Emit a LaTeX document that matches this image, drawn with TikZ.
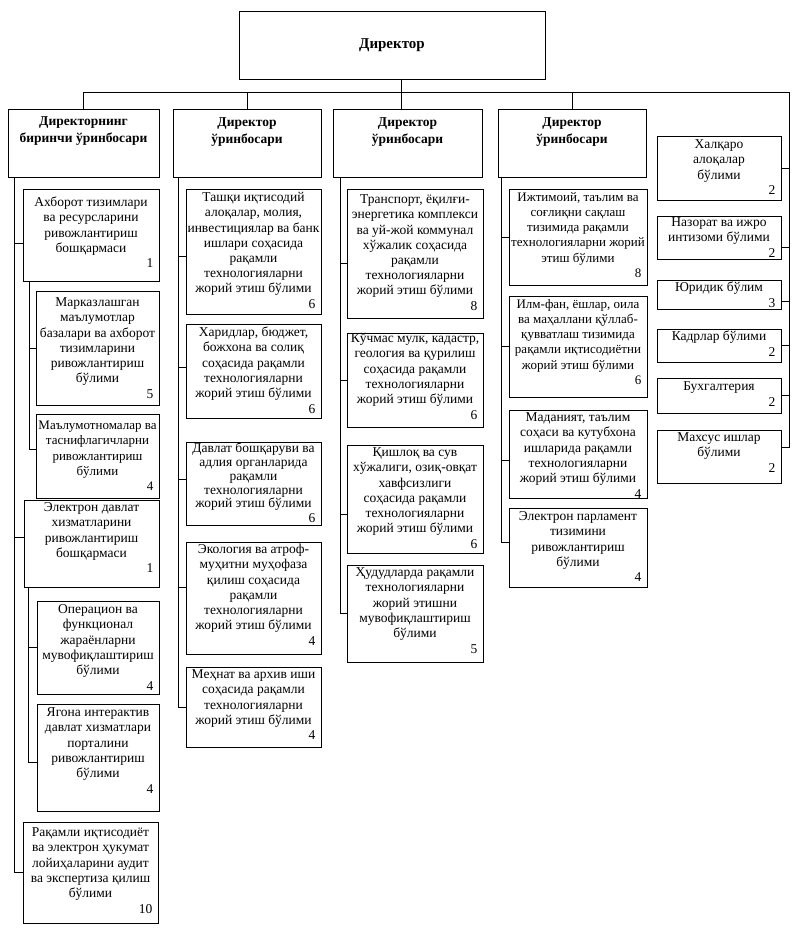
\documentclass[tikz,border=0pt]{standalone}
\usepackage{fontspec}
\setmainfont{Liberation Serif}
\usetikzlibrary{fit}
\tikzset{
  boxs/.style={draw, line width=1pt, inner sep=0pt},
  txt/.style={inner sep=0pt, align=center, font=\fontsize{13.5}{15.2}\selectfont},
  small/.style={font=\fontsize{13}{15.2}\selectfont},
  tight/.style={font=\fontsize{13.5}{13.8}\selectfont},
  head/.style={font=\fontsize{13.5}{16.5}\selectfont\bfseries},
  numtxt/.style={inner sep=0pt, anchor=north east, font=\fontsize{13.5}{15.2}\selectfont},
  conn/.style={line width=1pt},
}
% name, x1, y1, x2, y2, first-baseline offset, text style, text, number
\newcommand\ubox[9]{%
  \node[boxs, fit={(#2,#3)(#4,#5)}] (#1) {};
  \node[txt, #7, anchor=north] (#1t) at ([yshift={(10.64-#6)*1pt}]#1.north) {\strut #8\strut};
  \node[numtxt, #7] (#1n) at ([xshift=-6pt]#1t.south -| #1.east) {\strut #9};
}
\begin{document}
\begin{tikzpicture}[x=1pt, y=-1pt]
\useasboundingbox (0,0) rectangle (799,934);
\fill[white] (0,0) rectangle (799,934);
% director
\node[boxs, fit={(239,12)(545,79)}] (dir) {};
\node[font=\fontsize{15}{17}\selectfont\bfseries, inner sep=0pt] (dirt) at (dir.center) {Директор};
% deputies
\ubox{d1}{8}{109}{159}{177}{16}{head}{Директорнинг\\биринчи ўринбосари}{}
\ubox{d2}{173}{109}{321}{177}{17}{head}{Директор\\ўринбосари}{}
\ubox{d3}{333}{109}{482}{177}{17}{head}{Директор\\ўринбосари}{}
\ubox{d4}{498}{109}{646}{177}{17}{head}{Директор\\ўринбосари}{}
% column 1
\ubox{ax}{23}{189}{159}{281}{18}{}{Ахборот тизимлари\\ва ресурсларини\\ривожлантириш\\бошқармаси}{1}
\ubox{mk}{36}{291}{159}{405}{16}{}{Марказлашган\\маълумотлар\\базалари ва ахборот\\тизимларини\\ривожлантириш\\бўлими}{5}
\ubox{mq}{36}{414}{159}{498}{16}{small}{Маълумотномалар ва\\таснифлагичларни\\ривожлантириш\\бўлими}{4}
\ubox{ed}{24}{500}{159}{587}{12}{}{Электрон давлат\\хизматларини\\ривожлантириш\\бошқармаси}{1}
\ubox{op}{37}{601}{159}{694}{13}{}{Операцион ва\\функционал\\жараёнларни\\мувофиқлаштириш\\бўлими}{4}
\ubox{yg}{37}{704}{159}{811}{13}{}{Ягона интерактив\\давлат хизматлари\\порталини\\ривожлантириш\\бўлими}{4}
\ubox{rq}{23}{822}{158}{923}{15}{}{Рақамли иқтисодиёт\\ва электрон ҳукумат\\лойиҳаларини аудит\\ва экспертиза қилиш\\бўлими}{10}
% column 2
\ubox{tq}{186}{189}{321}{314}{13}{}{Ташқи иқтисодий\\алоқалар, молия,\\инвестициялар ва банк\\ишлари соҳасида\\рақамли\\технологияларни\\жорий этиш бўлими}{6}
\ubox{hr}{186}{324}{321}{418}{13}{}{Харидлар, бюджет,\\божхона ва солиқ\\соҳасида рақамли\\технологияларни\\жорий этиш бўлими}{6}
\ubox{db}{186}{442}{321}{525}{12}{tight}{Давлат бошқаруви ва\\адлия органларида\\рақамли\\технологияларни\\жорий этиш бўлими}{6}
\ubox{ek}{186}{542}{321}{654}{12}{}{Экология ва атроф-\\муҳитни муҳофаза\\қилиш соҳасида\\рақамли\\технологияларни\\жорий этиш бўлими}{4}
\ubox{mh}{186}{667}{321}{747}{12}{}{Меҳнат ва архив иши\\соҳасида рақамли\\технологияларни\\жорий этиш бўлими}{4}
% column 3
\ubox{tr}{347}{189}{483}{318}{15}{}{Транспорт, ёқилғи-\\энергетика комплекси\\ва уй-жой коммунал\\хўжалик соҳасида\\рақамли\\технологияларни\\жорий этиш бўлими}{8}
\ubox{kc}{347}{333}{483}{427}{10}{}{Кўчмас мулк, кадастр,\\геология ва қурилиш\\соҳасида рақамли\\технологияларни\\жорий этиш бўлими}{6}
\ubox{qs}{347}{445}{483}{553}{12}{}{Қишлоқ ва сув\\хўжалиги, озиқ-овқат\\хавфсизлиги\\соҳасида рақамли\\технологияларни\\жорий этиш бўлими}{6}
\ubox{hd}{347}{565}{483}{662}{12}{}{Ҳудудларда рақамли\\технологияларни\\жорий этишни\\мувофиқлаштириш\\бўлими}{5}
% column 4
\ubox{ij}{509}{189}{647}{285}{12.5}{small}{Ижтимоий, таълим ва\\соғлиқни сақлаш\\тизимида рақамли\\технологияларни жорий\\этиш бўлими}{8}
\ubox{il}{509}{296}{647}{397}{12.5}{small}{Илм-фан, ёшлар, оила\\ва маҳаллани қўллаб-\\қувватлаш тизимида\\рақамли иқтисодиётни\\жорий этиш бўлими}{6}
\ubox{md}{509}{410}{647}{498}{12}{}{Маданият, таълим\\соҳаси ва кутубхона\\ишларида рақамли\\технологияларни\\жорий этиш бўлими}{4}
\ubox{ep}{509}{508}{647}{587}{13}{}{Электрон парламент\\тизимини\\ривожлантириш\\бўлими}{4}
% right column
\ubox{xa}{657}{136}{781}{200}{13}{}{Халқаро\\алоқалар\\бўлими}{2}
\ubox{nz}{657}{216}{781}{259}{11}{}{Назорат ва ижро\\интизоми бўлими}{2}
\ubox{yu}{657}{280}{781}{309}{12}{}{Юридик бўлим}{3}
\ubox{kd}{657}{329}{781}{362}{12}{}{Кадрлар бўлими}{2}
\ubox{bx}{657}{378}{781}{413}{13}{}{Бухгалтерия}{2}
\ubox{ms}{657}{430}{781}{483}{12}{}{Махсус ишлар\\бўлими}{2}
% top connectors
\coordinate (busy) at (0,92);
\coordinate (rtop) at (789.5,92);
\coordinate (dj) at ([xshift=9pt]dir.south);
\draw[conn] (d1.north) |- (rtop) |- ([yshift=9.5pt]ms.east);
\draw[conn] (dj) -- (dj |- d3.north);
\draw[conn] (d2.north) -- (d2.north |- busy);
\draw[conn] (d4.north) -- (d4.north |- busy);
\foreach \n/\s in {xa/0, nz/-10, yu/-6.5, kd/0, bx/0}
  \draw[conn] ([yshift=\s pt]\n.east) -- ([yshift=\s pt]\n.east -| rtop);
% column 1 connectors
\coordinate (t1) at ([xshift=7pt]d1.south west);
\draw[conn] (t1) |- (rq.west);
\draw[conn] ([yshift=-8pt]ax.west) -- ([yshift=-8pt]ax.west -| t1);
\draw[conn] ([yshift=6pt]ed.west) -- ([yshift=6pt]ed.west -| t1);
\coordinate (t1a) at ([xshift=7pt]ax.south west);
\draw[conn] (t1a) |- ([yshift=7pt]mq.west);
\draw[conn] (mk.west) -- (mk.west -| t1a);
\coordinate (t1b) at ([xshift=5pt]ed.south west);
\draw[conn] (t1b) |- ([yshift=-5pt]yg.west);
\draw[conn] (op.west) -- (op.west -| t1b);
% column 2 connectors
\coordinate (t2) at ([xshift=6pt]d2.south west);
\draw[conn] (t2) |- (mh.west);
\foreach \n/\s in {tq/-4.5, hr/4, db/4.5, ek/11}
  \draw[conn] ([yshift=\s pt]\n.west) -- ([yshift=\s pt]\n.west -| t2);
% column 3 connectors
\coordinate (t3) at ([xshift=8pt]d3.south west);
\draw[conn] (t3) |- (hd.west);
\foreach \n/\s in {tr/-9.5, kc/0, qs/-15}
  \draw[conn] ([yshift=\s pt]\n.west) -- ([yshift=\s pt]\n.west -| t3);
% column 4 connectors
\coordinate (t4) at ([xshift=4pt]d4.south west);
\draw[conn] (t4) |- ([yshift=5.5pt]ep.west);
\foreach \n/\s in {ij/0, il/0, md/-6}
  \draw[conn] ([yshift=\s pt]\n.west) -- ([yshift=\s pt]\n.west -| t4);
\end{tikzpicture}
\end{document}
